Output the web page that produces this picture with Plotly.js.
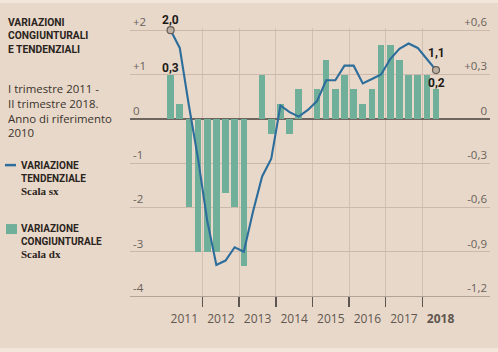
<!DOCTYPE html>
<html><head><meta charset="utf-8">
<script src="https://cdn.plot.ly/plotly-3.0.1.min.js"></script>
<style>
html,body{margin:0;padding:0;background:#f2e6da;width:498px;height:352px;overflow:hidden}
#chart{position:absolute;left:0;top:3px;width:498px;height:345px}
</style></head><body><div id="chart"></div>
<script>
// Quarterly data, I trimestre 2011 - II trimestre 2018
const firstYear = 2011;
const tendenziale = [2.0, 1.6, 0.3, -0.9, -2.3, -3.3, -3.2, -2.9, -3.0, -2.1, -1.3, -0.9,
  0.3, 0.15, 0.05, 0.2, 0.4, 0.87, 0.87, 1.2, 1.2, 0.8, 0.9, 1.0, 1.35, 1.58, 1.7, 1.6, 1.35, 1.1];
const congiunturale = [0.3, 0.1, -0.6, -0.9, -0.9, -0.9, -0.5, -0.6, -1.0, 0.0, 0.3, -0.1,
  0.1, -0.1, 0.2, 0.0, 0.2, 0.4, 0.2, 0.3, 0.2, 0.1, 0.2, 0.5, 0.5, 0.4, 0.3, 0.3, 0.3, 0.2];
const yearLabels = ['2011','2012','2013','2014','2015','2016','2017','<b>2018</b>'];
const yearValues = [2011,2012,2013,2014,2015,2016,2017,2018];
const leftTicks = [2,1,0,-1,-2,-3,-4];
const leftTickText = ['+2','+1','0','-1','-2','-3','-4'];
const rightTicks = [0.6,0.3,0,-0.3,-0.6,-0.9,-1.2];
const rightTickText = ['+0,6','+0,3','0','-0,3','-0,6','-0,9','-1,2'];

const n = tendenziale.length;
const xq = tendenziale.map((_, i) => firstYear + (i + 0.5) / 4);
const fmt = v => v.toFixed(1).replace('.', ',');

// left axis -4..2 spans div y 293..27; small headroom so the top gridline is kept
const UNIT = 266 / 6;
const HEAD = 0.05;
const PL = 130, PW = 360, PB = 293;
const PT = 27 - HEAD * UNIT, PH = PB - PT;
const px = v => (v - PL) / PW;
const py = v => (PB - (v - 3)) / PH;

const BLUE = '#2c6d9b', GREEN = '#70af99', BG = '#e8d8c9';
const tickFont = {family: 'Open Sans, sans-serif', size: 11.5, color: '#6a625b'};

const traces = [
  {type: 'bar', x: xq, y: congiunturale, width: 0.18, yaxis: 'y',
   marker: {color: GREEN, line: {width: 0}}, hoverinfo: 'skip'},
  {type: 'scatter', mode: 'lines', x: xq, y: tendenziale, yaxis: 'y2',
   line: {color: BLUE, width: 2.1}, cliponaxis: false, hoverinfo: 'skip'},
  {type: 'scatter', mode: 'markers', x: [xq[0], xq[n-1]], y: [tendenziale[0], tendenziale[n-1]],
   yaxis: 'y2', cliponaxis: false, hoverinfo: 'skip',
   marker: {size: 7, color: '#bdb1a5', line: {color: '#655d56', width: 1.2}}}
];

const boldFont = {family: 'Roboto, sans-serif', size: 12, color: '#1f1b18'};
const annotations = [
  {x: xq[0], y: tendenziale[0], xref: 'x', yref: 'y2', text: '<b>' + fmt(tendenziale[0]) + '</b>', showarrow: false, yshift: 10, font: boldFont},
  {x: xq[0], y: congiunturale[0], xref: 'x', yref: 'y', text: '<b>' + fmt(congiunturale[0]) + '</b>', showarrow: false, yshift: 7, font: boldFont},
  {x: xq[n-1], y: tendenziale[n-1], xref: 'x', yref: 'y2', text: '<b>' + fmt(tendenziale[n-1]) + '</b>', showarrow: false, yshift: 17, font: boldFont},
  {x: xq[n-1], y: congiunturale[n-1], xref: 'x', yref: 'y', text: '<b>' + fmt(congiunturale[n-1]) + '</b>', showarrow: false, yshift: 6, font: boldFont},
  {xref: 'paper', yref: 'paper', x: px(6), y: py(36), xanchor: 'left', yanchor: 'middle', align: 'left', showarrow: false,
   text: '<b>VARIAZIONI<br>CONGIUNTURALI<br>E TENDENZIALI</b>',
   font: {family: 'Roboto, sans-serif', size: 10.3, color: '#2a2420'}},
  {xref: 'paper', yref: 'paper', x: px(6), y: py(110), xanchor: 'left', yanchor: 'middle', align: 'left', showarrow: false,
   text: 'I trimestre 2011 -<br>II trimestre 2018.<br>Anno di riferimento<br>2010',
   font: {family: 'Open Sans, sans-serif', size: 11.4, color: '#3a332e'}},
  {xref: 'paper', yref: 'paper', x: px(19), y: py(178.5), xanchor: 'left', yanchor: 'middle', align: 'left', showarrow: false,
   text: '<b>VARIAZIONE<br>TENDENZIALE</b><br><span style="font-family:\'Liberation Serif\';font-weight:bold;font-size:11px">Scala sx</span>',
   font: {family: 'Roboto, sans-serif', size: 10, color: '#2a2420'}},
  {xref: 'paper', yref: 'paper', x: px(19), y: py(241), xanchor: 'left', yanchor: 'middle', align: 'left', showarrow: false,
   text: '<b>VARIAZIONE<br>CONGIUNTURALE</b><br><span style="font-family:\'Liberation Serif\';font-weight:bold;font-size:11px">Scala dx</span>',
   font: {family: 'Roboto, sans-serif', size: 10, color: '#2a2420'}}
];

const shapes = [
  {type: 'line', xref: 'paper', yref: 'paper', x0: px(5), x1: px(16), y0: py(165), y1: py(165),
   line: {color: BLUE, width: 2.5}},
  {type: 'rect', xref: 'paper', yref: 'paper', x0: px(6), x1: px(17), y0: py(224), y1: py(234),
   fillcolor: GREEN, line: {width: 0}}
];

const layout = {
  width: 498, height: 345,
  margin: {l: PL, r: 498 - PL - PW, t: PT, b: 345 - PB},
  paper_bgcolor: BG, plot_bgcolor: 'rgba(0,0,0,0)',
  showlegend: false, bargap: 0,
  xaxis: {range: [2010.016, 2019.85], tickmode: 'array',
    tickvals: yearValues.map(y => y + 0.5), ticktext: yearLabels,
    ticks: '', showgrid: false, zeroline: false, fixedrange: true,
    tickfont: {family: 'Open Sans, sans-serif', size: 12, color: '#5f5750'},
    ticklabelstandoff: 12,
    showline: true, linecolor: '#b2a396', linewidth: 1,
    minor: {tickmode: 'array', tickvals: yearValues.slice(1), ticks: 'outside', ticklen: 10,
      tickwidth: 1.5, tickcolor: '#5d5650', showgrid: true, gridcolor: '#d2c1b2', gridwidth: 1}},
  yaxis: {side: 'right', range: [-1.2, 0.6 + HEAD * 0.3], tickmode: 'array', tickvals: rightTicks, ticktext: rightTickText,
    ticklabelposition: 'inside top', ticklabeloverflow: 'allow', ticks: '', showgrid: true, gridcolor: '#cbbaab', gridwidth: 1,
    zeroline: true, zerolinecolor: '#6e665f', zerolinewidth: 2, tickfont: tickFont, fixedrange: true},
  yaxis2: {side: 'left', overlaying: 'y', range: [-4, 2 + HEAD], tickmode: 'array', tickvals: leftTicks, ticktext: leftTickText,
    ticklabelposition: 'inside top', ticklabeloverflow: 'allow', ticks: '', showgrid: false, zeroline: false, tickfont: tickFont, fixedrange: true},
  annotations: annotations,
  shapes: shapes
};

Plotly.newPlot('chart', traces, layout, {displayModeBar: false, staticPlot: true});
</script></body></html>
